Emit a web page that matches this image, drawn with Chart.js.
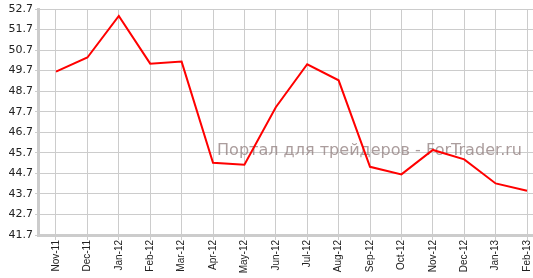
<!DOCTYPE html>
<html>
<head>
<meta charset="utf-8">
<script src="https://cdn.jsdelivr.net/npm/chart.js@4/dist/chart.umd.min.js"></script>
<style>
html,body{margin:0;padding:0;background:#fff;}
#wrap{width:533px;height:278px;position:relative;}
</style>
</head>
<body>
<div id="wrap"><canvas id="c" width="533" height="278"></canvas></div>
<script>
const categories = ["Nov-11","Dec-11","Jan-12","Feb-12","Mar-12","Apr-12","May-12","Jun-12","Jul-12","Aug-12","Sep-12","Oct-12","Nov-12","Dec-12","Jan-13","Feb-13"];
const seriesValues = [49.65,50.34,52.36,50.04,50.14,45.22,45.12,47.92,50.01,49.23,45.02,44.65,45.84,45.38,44.21,43.85];
const yTickLabels = [41.7,42.7,43.7,44.7,45.7,46.7,47.7,48.7,49.7,50.7,51.7,52.7];
const watermarkText = "Портал для трейдеров - ForTrader.ru";

const watermark = {
  id: 'watermark',
  beforeDatasetsDraw(chart) {
    const ctx = chart.ctx;
    ctx.save();
    ctx.font = '16px "DejaVu Sans"';
    ctx.fillStyle = 'rgba(150,132,132,0.8)';
    ctx.textAlign = 'left';
    const w = ctx.measureText(watermarkText).width;
    const sx = 305 / w;
    ctx.translate(217, 155);
    ctx.scale(sx, 1);
    ctx.fillText(watermarkText, 0, 0);
    ctx.restore();
  }
};

new Chart(document.getElementById('c'), {
  type: 'line',
  data: {
    datasets: [{
      data: seriesValues.map((v, i) => ({x: i, y: v})),
      borderColor: '#ff0000',
      borderWidth: 2,
      pointRadius: 0,
      tension: 0,
      fill: false
    }]
  },
  options: {
    responsive: false,
    animation: false,
    layout: {padding: {top: 9, right: 0, left: 0, bottom: 0}},
    plugins: {legend: {display: false}, tooltip: {enabled: false}},
    scales: {
      x: {
        type: 'linear',
        min: -0.573,
        max: 15.19,
        afterBuildTicks(scale) { scale.ticks = categories.map((_, i) => ({value: i})); },
        afterFit(scale) { scale.height = 43; scale.paddingRight = 0; scale.paddingLeft = 0; },
        ticks: {
          autoSkip: false,
          minRotation: 90,
          maxRotation: 90,
          padding: 0,
          color: '#222',
          font: {family: '"Liberation Sans"', size: 10},
          callback: (v) => categories[v]
        },
        grid: {color: '#cccccc', lineWidth: 1, tickLength: 5, drawTicks: true},
        border: {color: '#cccccc', width: 3}
      },
      y: {
        type: 'linear',
        min: 41.7,
        max: 52.7,
        afterBuildTicks(scale) { scale.ticks = yTickLabels.map(v => ({value: v})); },
        afterFit(scale) { scale.width = 38; scale.paddingTop = 0; scale.paddingBottom = 0; },
        ticks: {
          padding: 2,
          color: '#222',
          font: {family: '"DejaVu Sans"', size: 11},
          callback: (v) => v.toFixed(1)
        },
        grid: {color: '#cccccc', lineWidth: 1, tickLength: 3},
        border: {color: '#cccccc', width: 3}
      }
    }
  },
  plugins: [watermark]
});
</script>
</body>
</html>
